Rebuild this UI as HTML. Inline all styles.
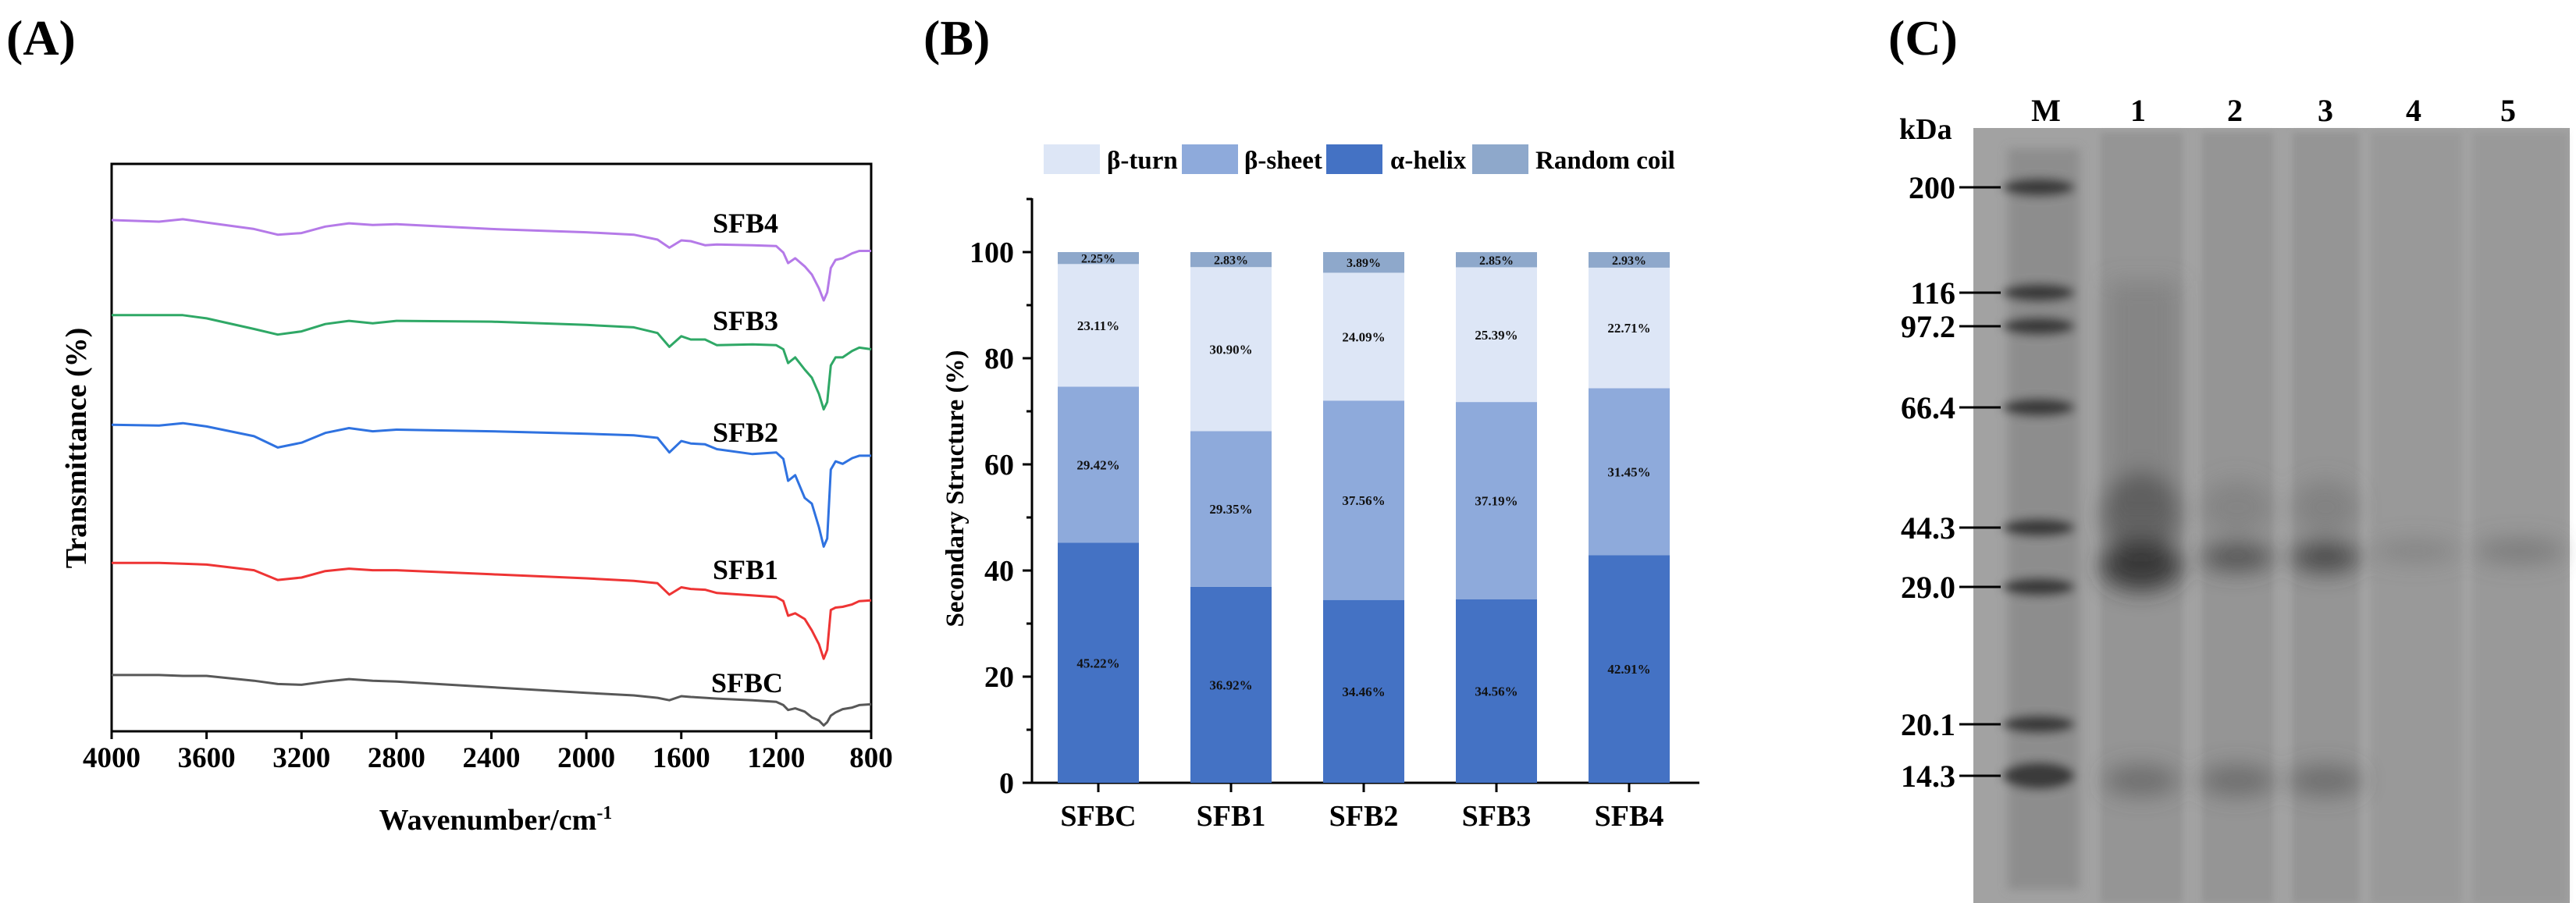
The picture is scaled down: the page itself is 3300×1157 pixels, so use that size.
<!DOCTYPE html>
<html><head><meta charset="utf-8"><style>
html,body{margin:0;padding:0;background:#fff;}
svg{display:block;font-family:"Liberation Serif",serif;font-weight:bold;}
</style></head><body>
<svg id="fig" width="3300" height="1157" viewBox="0 0 3300 1157" xmlns="http://www.w3.org/2000/svg">
<defs>
<filter id="blur6" x="-50%" y="-50%" width="200%" height="200%"><feGaussianBlur stdDeviation="6"/></filter>
<filter id="blur14" x="-50%" y="-50%" width="200%" height="200%"><feGaussianBlur stdDeviation="14"/></filter>
<filter id="blur4" x="-50%" y="-50%" width="200%" height="200%"><feGaussianBlur stdDeviation="4"/></filter>
</defs>
<text x="8" y="70" font-size="64">(A)</text>
<text x="1183" y="70" font-size="64">(B)</text>
<text x="2419" y="70" font-size="64">(C)</text>
<g id="panelA"></g>
<g id="panelB"></g>
<g id="panelC"></g>
</svg>
<script>
// ---------- Panel A data ----------
const wavenumbers = [4000,3800,3700,3600,3400,3300,3200,3100,3000,2900,2800,2400,2000,1800,1700,1650,1600,1560,1500,1450,1300,1200,1170,1150,1120,1080,1050,1020,1000,985,970,950,920,880,850,800];
const sfb4 = [674,672,675,671,663,656,658,666,670,668,669,663,659,656,650,640,649,648,643,644,643,642,634,621,627,617,607,590,575,585,615,625,627,633,636,636];
const sfb3 = [557,557,557,553,540,533,537,546,550,547,550,549,545,542,535,518,531,527,527,520,521,520,515,498,505,490,480,460,441,450,495,505,505,513,517,515];
const sfb2 = [422,421,424,420,408,394,400,412,418,414,416,414,411,409,406,388,402,399,398,392,386,388,380,353,360,332,325,296,272,282,367,377,374,381,384,384];
const sfb1 = [252,252,251,250,243,231,234,242,245,243,243,238,233,230,227,213,222,220,219,215,212,210,205,187,190,183,169,152,134,145,194,197,198,201,205,206];
const sfbc = [114,114,113,113,107,103,102,106,109,107,106,99,92,89,86,83,88,87,86,85,83,81,77,71,73,69,62,58,52,56,64,68,72,74,77,78];
const ftirNames = ["SFB4","SFB3","SFB2","SFB1","SFBC"];
const xTicksA = [4000,3600,3200,2800,2400,2000,1600,1200,800];

// ---------- Panel B data ----------
const samples = ["SFBC","SFB1","SFB2","SFB3","SFB4"];
const helix = [45.22,36.92,34.46,34.56,42.91];
const sheet = [29.42,29.35,37.56,37.19,31.45];
const turn = [23.11,30.90,24.09,25.39,22.71];
const coil = [2.25,2.83,3.89,2.85,2.93];
const yTicksB = [0,20,40,60,80,100];

// ---------- Panel C data ----------
const markerKDa = ["200","116","97.2","66.4","44.3","29.0","20.1","14.3"];
const laneLabels = ["M","1","2","3","4","5"];

const NS="http://www.w3.org/2000/svg";
function mk(parent,tag,attrs){const e=document.createElementNS(NS,tag);for(const k in attrs)e.setAttribute(k,attrs[k]);parent.appendChild(e);return e;}

// ===== Panel A =====
(function(){
const g=document.getElementById('panelA');
const L=143,R=1116,T=210,B=937;
const xA=w=>L+(4000-w)*(R-L)/3200;
const yA=v=>983.6-v*1.041;
const box=mk(g,'rect',{x:L,y:T,width:R-L,height:B-T,fill:'none',stroke:'#000','stroke-width':3});


xTicksA.forEach(t=>{
  const tk=mk(g,'line',{x1:xA(t),x2:xA(t),y1:B,y2:B+10,stroke:'#000','stroke-width':3});
  
  
  const tl=mk(g,'text',{x:xA(t),y:B+46,'font-size':37,'text-anchor':'middle'});
  tl.textContent=t;
  
  
});
const xt=mk(g,'text',{x:635,y:1063,'font-size':38,'text-anchor':'middle'});
xt.innerHTML='Wavenumber/cm<tspan dy="-14" font-size="24">-1</tspan>';


const yt=mk(g,'text',{x:0,y:0,'font-size':38,'text-anchor':'middle',transform:'translate(110,574) rotate(-90)'});
yt.textContent='Transmittance (%)';


const series=[sfb4,sfb3,sfb2,sfb1,sfbc];
const colors=['#b57ae8','#2fa866','#2f72e0','#ee3434','#585858'];
const labelY=[298,423,566,742,887];
const labelX=[955,955,955,955,957];
series.forEach((s,i)=>{
  const pts=s.map((v,j)=>xA(wavenumbers[j]).toFixed(1)+','+yA(v).toFixed(1)).join(' ');
  const p=mk(g,'polyline',{points:pts,fill:'none',stroke:colors[i],'stroke-width':3,'stroke-linejoin':'round'});
  
  
  const t=mk(g,'text',{x:labelX[i],y:labelY[i],'font-size':36,'text-anchor':'middle'});
  t.textContent=ftirNames[i];
  
  
});
})();

// ===== Panel B =====
(function(){
const g=document.getElementById('panelB');
const L=1322,R=2177,B=1003,T=254;
const yB=v=>B-v*6.8;
const cx=i=>1407+i*170;
const bw=104;
const ax=mk(g,'path',{d:`M${L},${T} L${L},${B} L${R},${B}`,fill:'none',stroke:'#000','stroke-width':3});


for(let v=0;v<=110;v+=10){
  const tk=mk(g,'line',{x1:L-(v%20===0?12:7),x2:L,y1:yB(v),y2:yB(v),stroke:'#000','stroke-width':3});
  
  
}
yTicksB.forEach(v=>{
  const t=mk(g,'text',{x:1299,y:yB(v)+13,'font-size':38,'text-anchor':'end'});
  t.textContent=v;
  
  
});
const yt=mk(g,'text',{x:0,y:0,'font-size':33,'text-anchor':'middle',transform:'translate(1234,626) rotate(-90)'});
yt.textContent='Secondary Structure (%)';


const layers=[[helix,'#4472c4','helix'],[sheet,'#8eaadb','sheet'],[turn,'#dde6f6','turn'],[coil,'#8ea8cb','coil']];
samples.forEach((s,i)=>{
  let base=0;
  layers.forEach(([arr,col,nm])=>{
    const v=arr[i];
    const r=mk(g,'rect',{x:cx(i)-bw/2,y:yB(base+v),width:bw,height:v*6.8,fill:col});
    
    
    const ly=yB(base+v/2)+6;
    const t=mk(g,'text',{x:cx(i),y:ly,'font-size':nm==='coil'?16:17,'text-anchor':'middle',fill:'#111'});
    t.textContent=v.toFixed(2)+'%';
    
    
    base+=v;
  });
  const tk=mk(g,'line',{x1:cx(i),x2:cx(i),y1:B,y2:B+12,stroke:'#000','stroke-width':3});
  
  
  const cl=mk(g,'text',{x:cx(i),y:1058,'font-size':38,'text-anchor':'middle'});
  cl.textContent=s;
  
  
});
const leg=[['β-turn','#dde6f6',1337,1418],['β-sheet','#8eaadb',1514,1594],['α-helix','#4472c4',1699,1781],['Random coil','#8ea8cb',1886,1967]];
leg.forEach(([t,c,sx,tx])=>{
  const sw=mk(g,'rect',{x:sx,y:185,width:72,height:38,fill:c});
  
  
  const lt=mk(g,'text',{x:tx,y:216,'font-size':33});
  lt.textContent=t;
  
  
});
})();

// ===== Panel C =====
(function(){
const g=document.getElementById('panelC');
const gel=mk(g,'rect',{x:2528,y:164,width:764,height:993,fill:'#a2a2a2'});


const lanes=[[2691,2796],[2821,2912],[2937,3022],[3038,3153],[3168,3289]];
const lg=mk(g,'g',{filter:'url(#blur4)'});
lanes.forEach((ln,i)=>{
  const r=mk(lg,'rect',{x:ln[0],y:170,width:ln[1]-ln[0],height:987,fill:'#8c8c8c',opacity:i>=3?0.4:0.6});
  
  
});
const sg=mk(g,'g',{filter:'url(#blur14)'});
mk(sg,'rect',{x:2700,y:360,width:90,height:300,fill:'#707070',opacity:0.45});
mk(sg,'ellipse',{cx:2743,cy:660,rx:50,ry:55,fill:'#505050',opacity:0.7});
mk(sg,'ellipse',{cx:2743,cy:725,rx:52,ry:32,fill:'#303030',opacity:0.9});
mk(sg,'ellipse',{cx:2866,cy:650,rx:45,ry:35,fill:'#707070',opacity:0.45});
mk(sg,'ellipse',{cx:2979,cy:650,rx:42,ry:35,fill:'#707070',opacity:0.5});
mk(sg,'ellipse',{cx:2866,cy:714,rx:46,ry:18,fill:'#454545',opacity:0.8});
mk(sg,'ellipse',{cx:2979,cy:714,rx:44,ry:20,fill:'#404040',opacity:0.85});
mk(sg,'ellipse',{cx:3095,cy:706,rx:55,ry:14,fill:'#707070',opacity:0.5});
mk(sg,'ellipse',{cx:3228,cy:706,rx:58,ry:16,fill:'#6a6a6a',opacity:0.6});
[2743,2866,2979].forEach(x=>mk(sg,'ellipse',{cx:x,cy:1000,rx:48,ry:20,fill:'#555',opacity:0.6}));
const markerY=[240,375,418,522,676,752,928,994];
const mg=mk(g,'g',{filter:'url(#blur6)'});
const ml=mk(mg,'rect',{x:2572,y:190,width:92,height:950,fill:'#858585',opacity:0.7});


markerY.forEach((y,i)=>{
  const b=mk(mg,'ellipse',{cx:2612,cy:y,rx:46,ry:i===7?18:12,fill:'#2e2e2e',opacity:0.85});
  
  
});
markerKDa.forEach((k,i)=>{
  const t=mk(g,'text',{x:2505,y:markerY[i]+14,'font-size':40,'text-anchor':'end'});
  t.textContent=k;
  
  
  const ln=mk(g,'line',{x1:2510,x2:2563,y1:markerY[i],y2:markerY[i],stroke:'#000','stroke-width':3});
  
  
});
const kda=mk(g,'text',{x:2433,y:178,'font-size':38});
kda.textContent='kDa';


laneLabels.forEach((l,i)=>{
  const t=mk(g,'text',{x:[2621,2739,2863,2979,3092,3213][i],y:155,'font-size':40,'text-anchor':'middle'});
  t.textContent=l;
  
  
});
})();
</script>
</body></html>
